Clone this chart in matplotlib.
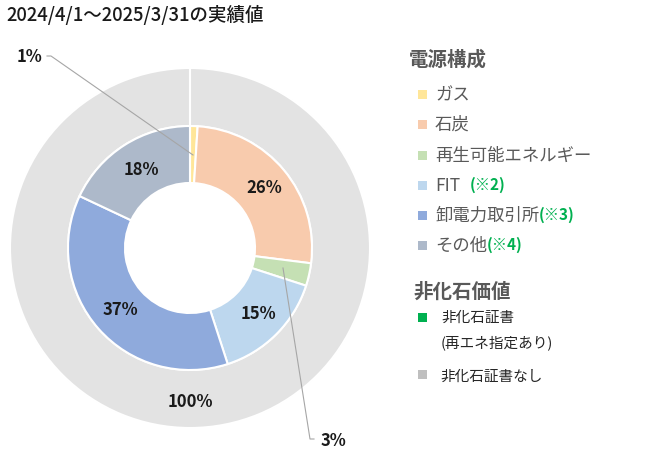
import matplotlib
matplotlib.use("Agg")
import matplotlib.pyplot as plt
from matplotlib.patches import Rectangle

plt.rcParams['font.family'] = ['Noto Sans CJK JP', 'DejaVu Sans']

title = "2024/4/1～2025/3/31の実績値"
categories = ["ガス", "石炭", "再生可能エネルギー", "FIT", "卸電力取引所", "その他"]
notes = ["", "", "", "(※2)", "(※3)", "(※4)"]
values = [1, 26, 3, 15, 37, 18]
labels = ["1%", "26%", "3%", "15%", "37%", "18%"]
colors = ["#FFE699", "#F8CBAD", "#C5E0B4", "#BDD7EE", "#8FAADC", "#ADB9CA"]

outer_categories = ["非化石証書なし"]
outer_values = [100]
outer_labels = ["100%"]
outer_color = "#E3E3E3"

W, H = 668, 461
fig = plt.figure(figsize=(W / 100, H / 100), dpi=100)
ax = fig.add_axes([0, 0, 1, 1])

def Y(y):
    return H - y

cx, cy = 190, Y(248)

ax.pie(outer_values, colors=[outer_color], radius=180, center=(cx, cy),
       startangle=90, counterclock=False,
       wedgeprops=dict(width=58, edgecolor='white', linewidth=1.5))
ax.plot([cx, cx], [cy + 122, cy + 180], color='white', lw=1.5, zorder=5)
ax.pie(values, colors=colors, radius=122, center=(cx, cy),
       startangle=90, counterclock=False,
       wedgeprops=dict(width=57, edgecolor='white', linewidth=1.5))
ax.set_xlim(0, W)
ax.set_ylim(0, H)
ax.set_aspect('equal')
ax.axis('off')

lab_kw = dict(fontsize=12, fontweight='bold', color='#1a1a1a', ha='center', va='center')
# inner labels
ax.text(264, Y(188), labels[1], **lab_kw)
ax.text(258, Y(314), labels[3], **lab_kw)
ax.text(120, Y(310), labels[4], **lab_kw)
ax.text(141, Y(170), labels[5], **lab_kw)
ax.text(190, Y(402), outer_labels[0], **lab_kw)
# callouts
ax.text(30, Y(57), labels[0], **lab_kw)
ax.plot([47, 51, 193], [Y(56), Y(56), Y(155)], color='#A6A6A6', lw=0.8)
ax.text(333, Y(441), labels[2], **lab_kw)
ax.plot([283, 310, 314], [Y(268), Y(439), Y(439)], color='#A6A6A6', lw=0.8)

# title
ax.text(6, Y(15), title, fontsize=13.3, fontweight='medium', color='#1a1a1a', ha='left', va='center')

# legend: 電源構成
ax.text(409, Y(60), "電源構成", fontsize=14, fontweight='bold', color='#595959', ha='left', va='center')
ys = [95, 125, 156, 186, 216, 246]
gaps = [0, 0, 0, 10, 0, 0]
fig.canvas.draw()
renderer = fig.canvas.get_renderer()
for c, col, y, n, g in zip(categories, colors, ys, notes, gaps):
    ax.add_patch(Rectangle((418, Y(y) - 4.5), 9, 9, color=col, lw=0))
    t = ax.text(435, Y(y), c, fontsize=12.5, color='#595959', ha='left', va='center')
    if n:
        bb = t.get_window_extent(renderer)
        ax.text(bb.x1 + g, Y(y) + 1, n, fontsize=11, fontweight='bold', color='#00B050',
                ha='left', va='center')

# legend: 非化石価値
ax.text(413, Y(292), "非化石価値", fontsize=14, fontweight='bold', color='#595959', ha='left', va='center')
ax.add_patch(Rectangle((418, Y(318) - 4.5), 9, 9, color='#00B050', lw=0))
ax.text(441, Y(318), "非化石証書", fontsize=10.5, color='#262626', ha='left', va='center')
ax.text(441, Y(343), "(再エネ指定あり)", fontsize=10.5, color='#262626', ha='left', va='center')
ax.add_patch(Rectangle((418, Y(375) - 4.5), 9, 9, color='#BFBFBF', lw=0))
ax.text(440, Y(377), outer_categories[0], fontsize=10.5, color='#262626', ha='left', va='center')

fig.savefig("out.png", dpi=100)
